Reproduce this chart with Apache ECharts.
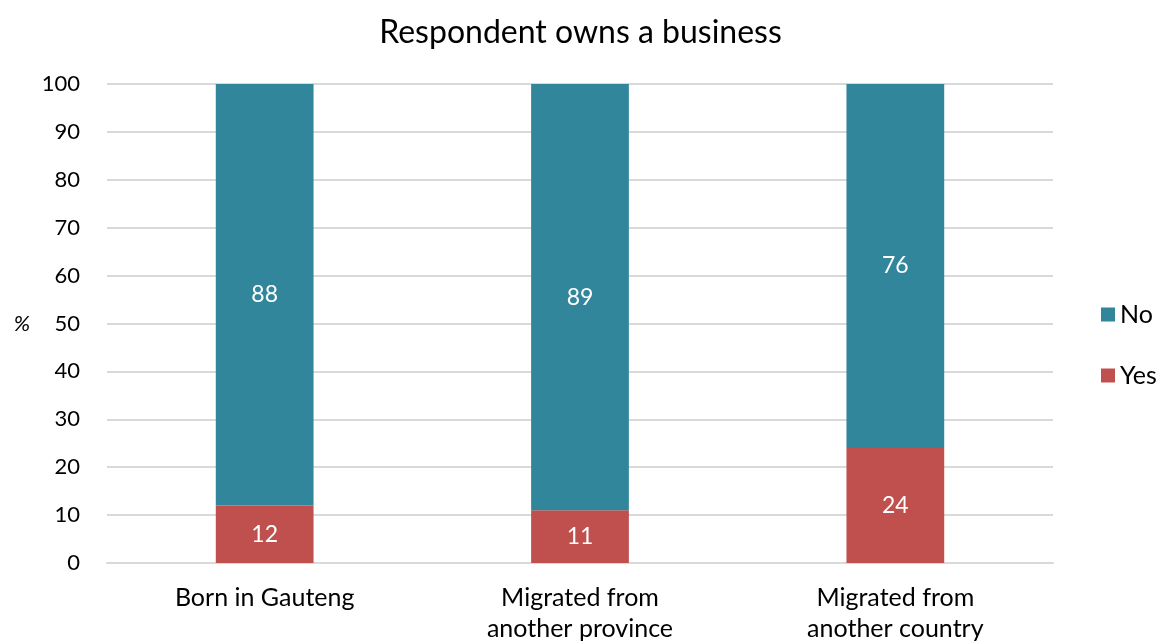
<!DOCTYPE html>
<html>
<head>
<meta charset="utf-8">
<script src="https://cdn.jsdelivr.net/npm/echarts@6/dist/echarts.min.js"></script>
<style>
  html, body { margin: 0; padding: 0; background: #ffffff; }
  #chart { width: 1161px; height: 644px; }
</style>
</head>
<body>
<div id="chart"></div>
<script>
// Share of respondents who own a business, by migration status (%)
const categories = ['Born in Gauteng', 'Migrated from\nanother province', 'Migrated from\nanother country'];
const yesValues = [12, 11, 24];
const noValues = [88, 89, 76];
const yTicks = [0, 10, 20, 30, 40, 50, 60, 70, 80, 90, 100];

const FONT = 'Lato, "Open Sans", sans-serif';
const chart = echarts.init(document.getElementById('chart'), null, { renderer: 'canvas' });

chart.setOption({
  backgroundColor: '#ffffff',
  animation: false,
  title: {
    text: 'Respondent owns a business',
    left: 'center',
    top: 12,
    textStyle: { fontFamily: FONT, fontSize: 32, fontWeight: 'normal', color: '#000000' }
  },
  legend: {
    orient: 'vertical',
    left: 1096,
    top: 297,
    itemWidth: 14,
    itemHeight: 14,
    itemGap: 36,
    icon: 'rect',
    data: ['No', 'Yes'],
    textStyle: { fontFamily: FONT, fontSize: 25, color: '#000000' }
  },
  grid: { left: 107, width: 946, top: 84, height: 482, containLabel: false },
  xAxis: {
    type: 'category',
    data: categories,
    axisTick: { show: false },
    axisLine: { show: true, lineStyle: { color: '#d9d9d9', width: 2 } },
    axisLabel: { fontFamily: FONT, fontSize: 25, color: '#000000', margin: 19, lineHeight: 31 }
  },
  yAxis: {
    type: 'value',
    name: '%',
    nameLocation: 'middle',
    nameRotate: 0,
    nameGap: 77,
    nameTextStyle: { fontFamily: FONT, fontSize: 22, fontStyle: 'italic', color: '#000000' },
    min: yTicks[0],
    max: yTicks[yTicks.length - 1],
    interval: 10,
    axisLine: { show: false },
    axisTick: { show: false },
    axisLabel: { fontFamily: FONT, fontSize: 22, color: '#000000', margin: 27 },
    splitLine: { lineStyle: { color: '#d9d9d9', width: 2 } }
  },
  series: [
    {
      name: 'Yes',
      type: 'bar',
      stack: 'total',
      barWidth: '31%',
      data: yesValues,
      itemStyle: { color: '#c0504d' },
      label: { show: true, position: 'inside', fontFamily: FONT, fontSize: 23, color: '#ffffff' }
    },
    {
      name: 'No',
      type: 'bar',
      stack: 'total',
      barWidth: '31%',
      data: noValues,
      itemStyle: { color: '#31869b' },
      label: { show: true, position: 'inside', fontFamily: FONT, fontSize: 23, color: '#ffffff' }
    }
  ]
});
</script>
</body>
</html>
